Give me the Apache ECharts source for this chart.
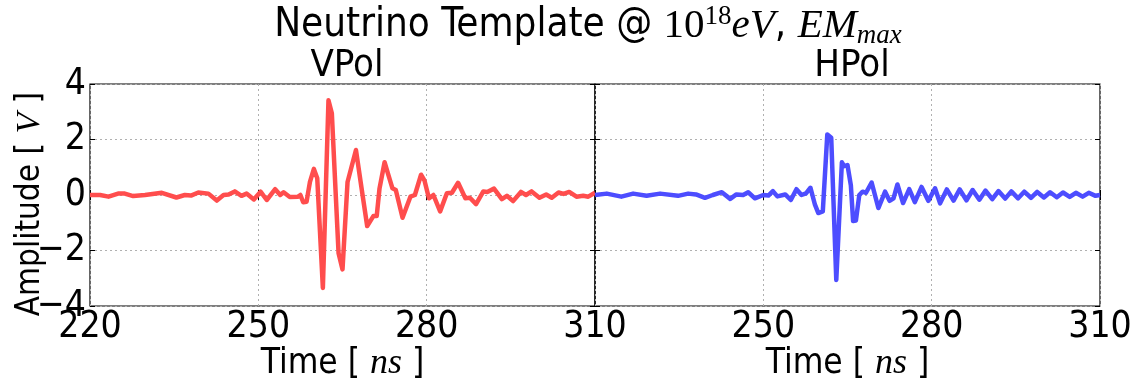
<!DOCTYPE html>
<html>
<head>
<meta charset="utf-8">
<script src="https://cdn.jsdelivr.net/npm/echarts@6/dist/echarts.min.js"></script>
<style>
  html, body { margin: 0; padding: 0; background: #fff; }
  #chart { width: 1137px; height: 387px; }
</style>
</head>
<body>
<div id="chart"></div>
<script>
// VPol template (time in ns, amplitude in V)
const vpolTime = [220.0, 220.3, 221.8, 223.3, 225.0, 226.2, 227.7, 229.8, 232.8, 235.4, 236.9, 238.0, 239.3, 241.1, 242.6, 243.8, 244.7, 245.8, 247.0, 247.9, 249.2, 250.4, 251.5, 253.0, 253.9, 254.5, 255.6, 257.1, 257.5, 258.0, 258.6, 259.2, 259.9, 260.5, 261.5, 262.5, 263.1, 264.3, 265.0, 265.9, 267.4, 268.4, 269.4, 270.5, 271.1, 271.6, 272.5, 273.2, 273.9, 274.5, 275.7, 276.0, 277.1, 277.9, 279.0, 279.6, 280.4, 281.2, 282.4, 283.6, 284.5, 285.6, 286.9, 287.7, 288.8, 290.1, 290.8, 292.0, 293.4, 294.3, 295.4, 296.8, 297.7, 298.7, 300.1, 301.3, 302.3, 303.5, 304.4, 305.4, 306.7, 307.9, 308.8, 310.0];
const vpolAmp = [0.0, 0.02, 0.0, -0.06, 0.05, 0.05, -0.04, 0.0, 0.08, -0.09, 0.0, -0.02, 0.09, 0.05, -0.2, 0.0, 0.02, 0.13, -0.03, 0.05, -0.16, 0.12, -0.18, 0.21, 0.0, 0.1, -0.07, -0.06, 0.0, -0.26, -0.24, 0.47, 0.94, 0.6, -3.35, 3.41, 2.94, -2.1, -2.68, 0.47, 1.62, 0.24, -1.12, -0.76, -0.76, 0.24, 1.18, 0.71, 0.24, 0.18, -0.82, -0.82, -0.06, 0.0, 0.73, 0.53, -0.12, 0.0, -0.59, 0.06, 0.08, 0.44, -0.12, -0.1, -0.33, 0.13, 0.11, 0.23, -0.15, -0.03, -0.22, 0.11, 0.0, 0.13, -0.1, 0.02, -0.1, 0.09, 0.04, 0.11, -0.06, -0.03, -0.06, 0.08];

// HPol template
const hpolTime = [220.0, 222.1, 224.7, 226.8, 229.2, 231.6, 234.8, 236.6, 238.0, 239.6, 241.0, 242.6, 244.1, 245.2, 246.4, 247.3, 248.5, 250.0, 250.9, 251.7, 252.5, 253.9, 254.9, 255.9, 256.8, 257.6, 258.4, 259.2, 259.8, 260.6, 261.4, 262.1, 263.0, 264.0, 264.4, 265.0, 265.6, 266.0, 266.5, 267.1, 267.7, 268.3, 269.3, 270.5, 271.7, 272.5, 273.2, 273.9, 274.9, 276.0, 277.0, 278.2, 279.4, 280.6, 281.5, 282.7, 283.9, 285.0, 286.2, 287.3, 288.5, 289.6, 290.8, 291.9, 293.1, 294.2, 295.4, 296.5, 297.7, 298.8, 300.0, 301.1, 302.3, 303.4, 304.6, 305.7, 306.9, 308.0, 309.2, 310.0];
const hpolAmp = [0.0, 0.05, -0.06, 0.05, -0.03, 0.05, -0.03, 0.05, 0.02, -0.1, 0.0, 0.1, -0.14, 0.02, 0.0, 0.1, -0.12, 0.0, -0.02, 0.14, -0.05, 0.02, -0.18, 0.21, 0.0, 0.06, 0.26, -0.35, -0.65, -0.59, 2.18, 2.06, -3.06, 1.18, 1.04, 1.08, 0.35, -0.94, -0.92, 0.0, 0.12, 0.08, 0.45, -0.47, 0.12, -0.21, -0.12, 0.38, -0.29, 0.21, -0.26, 0.29, -0.21, 0.24, -0.3, 0.2, -0.2, 0.2, -0.19, 0.18, -0.17, 0.16, -0.15, 0.14, -0.13, 0.13, -0.12, 0.12, -0.1, 0.11, -0.09, 0.1, -0.08, 0.09, -0.07, 0.08, -0.06, 0.08, -0.03, 0.0];

const timeTicks = { min: 220, max: 310, step: 30 };
const ampTicks = { min: -4, max: 4, step: 2 };

const sans = "'DejaVu Sans Condensed', 'DejaVu Sans', sans-serif";
const serif = "'Liberation Serif', 'DejaVu Serif', serif";

const chart = echarts.init(document.getElementById('chart'));

const pairs = (t, a) => t.map((x, i) => [x, a[i]]);
const minus = v => String(v).replace('-', '\u2212');

const gridLine = { show: true, lineStyle: { color: '#b0b0b0', type: [2, 3], width: 1 } };
const labelFont = { fontFamily: sans, fontSize: 37, color: '#000' };
const timeRich = {
     s: { fontFamily: sans, fontSize: 35, color: '#000' },
     i: { fontFamily: serif, fontStyle: 'italic', fontSize: 36, color: '#000' }
};
const ampRich = {
     s: { fontFamily: sans, fontSize: 33, color: '#000' },
     i: { fontFamily: serif, fontStyle: 'italic', fontSize: 34, color: '#000' }
};

function xAxisFor(gridIndex, showMin) {
     return [{
          type: 'value', gridIndex: gridIndex,
          min: timeTicks.min, max: timeTicks.max, interval: timeTicks.step,
          axisLine: { show: false },
          axisTick: { inside: true, length: 5, lineStyle: { color: '#000' } },
          axisLabel: Object.assign({ margin: 3, showMinLabel: showMin, showMaxLabel: true }, labelFont),
          splitLine: gridLine,
          name: '{s|Time [ }{i|ns}{s| ]}',
          nameLocation: 'middle', nameGap: 40, nameMoveOverlap: false,
          nameTextStyle: { rich: timeRich }
     }, {
          type: 'value', gridIndex: gridIndex, position: 'top',
          min: timeTicks.min, max: timeTicks.max, interval: timeTicks.step,
          axisLine: { show: false },
          axisTick: { inside: true, length: 5, lineStyle: { color: '#000' } },
          axisLabel: { show: false },
          splitLine: { show: false }
     }];
}

function yAxisFor(gridIndex, withLabels) {
     const main = {
          type: 'value', gridIndex: gridIndex,
          min: ampTicks.min, max: ampTicks.max, interval: ampTicks.step,
          axisLine: { show: false },
          axisTick: { inside: true, length: 5, lineStyle: { color: '#000' } },
          axisLabel: Object.assign({ show: withLabels, margin: 4, formatter: minus }, labelFont),
          splitLine: gridLine
     };
     if (withLabels) {
          main.name = '{s|Amplitude [ }{i|V}{s| ]}';
          main.nameLocation = 'middle';
          main.nameGap = 43;
          main.nameMoveOverlap = false;
          main.nameTextStyle = { rich: ampRich, padding: [0, 18, 0, 0] };
     }
     return [main, {
          type: 'value', gridIndex: gridIndex, position: 'right',
          min: ampTicks.min, max: ampTicks.max, interval: ampTicks.step,
          axisLine: { show: false },
          axisTick: { inside: true, length: 5, lineStyle: { color: '#000' } },
          axisLabel: { show: false },
          splitLine: { show: false }
     }];
}

const option = {
     animation: false,
     backgroundColor: '#fff',
     title: [
          {
               text: '{s|Neutrino Template @ }{r|10}{sup|18}{i|eV}{s|, }{i|EM}{sub|max}',
               left: 583, top: -2, textAlign: 'center',
               textStyle: {
                    fontWeight: 'normal',
                    rich: {
                         s: { fontFamily: sans, fontSize: 40, fontWeight: 'normal', color: '#000', lineHeight: 46 },
                         r: { fontFamily: serif, fontSize: 41, fontWeight: 'normal', color: '#000', lineHeight: 46 },
                         i: { fontFamily: serif, fontStyle: 'italic', fontSize: 41, fontWeight: 'normal', color: '#000', lineHeight: 46 },
                         sup: { fontFamily: serif, fontSize: 27, fontWeight: 'normal', color: '#000', lineHeight: 26, verticalAlign: 'top' },
                         sub: { fontFamily: serif, fontStyle: 'italic', fontSize: 27, fontWeight: 'normal', color: '#000', lineHeight: 26, verticalAlign: 'bottom' }
                    }
               }
          },
          { text: 'VPol', left: 342, top: 42, textAlign: 'center',
            textStyle: { fontFamily: sans, fontSize: 38, fontWeight: 'normal', color: '#000' } },
          { text: 'HPol', left: 847, top: 42, textAlign: 'center',
            textStyle: { fontFamily: sans, fontSize: 38, fontWeight: 'normal', color: '#000' } }
     ],
     grid: [
          { left: 90, right: 542, top: 84, bottom: 77, show: true, borderColor: '#000', borderWidth: 1.2 },
          { left: 595, right: 37, top: 84, bottom: 77, show: true, borderColor: '#000', borderWidth: 1.2 }
     ],
     xAxis: xAxisFor(0, true).concat(xAxisFor(1, false)),
     yAxis: yAxisFor(0, true).concat(yAxisFor(1, false)),
     series: [
          {
               name: 'VPol', type: 'line', xAxisIndex: 0, yAxisIndex: 0,
               data: pairs(vpolTime, vpolAmp),
               showSymbol: false, clip: false,
               lineStyle: { color: '#ff4d4d', width: 4.5, join: 'round' },
               itemStyle: { color: '#ff4d4d' }
          },
          {
               name: 'HPol', type: 'line', xAxisIndex: 2, yAxisIndex: 2,
               data: pairs(hpolTime, hpolAmp),
               showSymbol: false, clip: false,
               lineStyle: { color: '#4d4dff', width: 4.5, join: 'round' },
               itemStyle: { color: '#4d4dff' }
          }
     ]
};

chart.setOption(option);
</script>
</body>
</html>
